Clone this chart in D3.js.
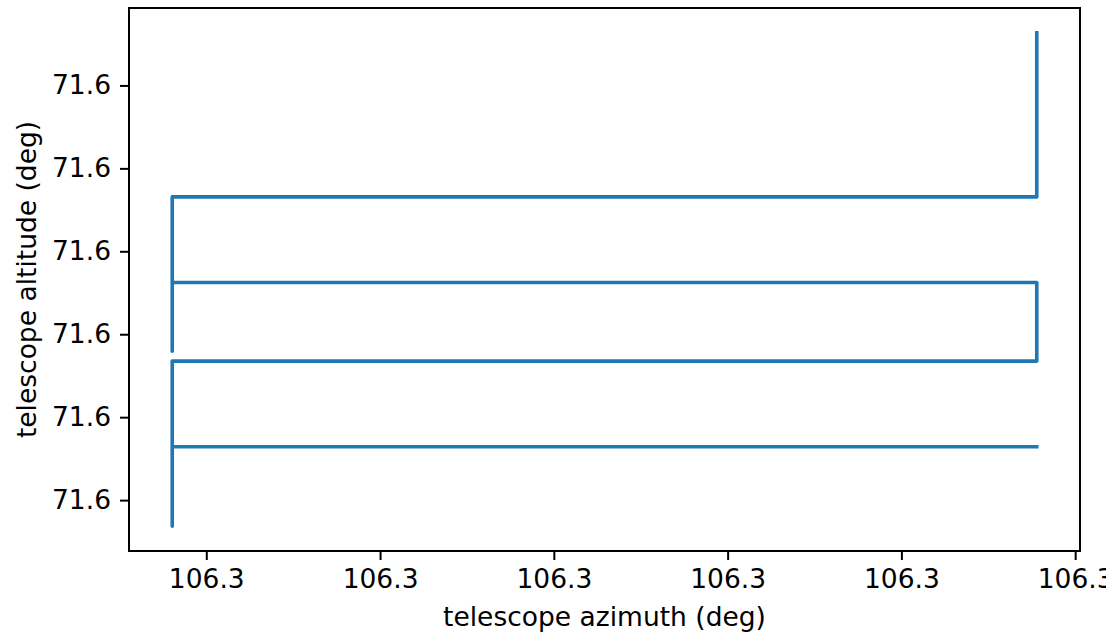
<!DOCTYPE html>
<html>
<head>
<meta charset="utf-8">
<script src="https://cdn.jsdelivr.net/npm/d3@7"></script>
<style>
    body { margin: 0; background: #ffffff; }
    .tick text { font-family: "DejaVu Sans", sans-serif; font-size: 26.5px; fill: #000; }
    .axisLabel { font-family: "DejaVu Sans", sans-serif; font-size: 26.5px; fill: #000; }
</style>
</head>
<body>
<script>
//telescope pointing track, one point per turn of the scan
var azimuth = [106.30004558, 106.29994608, 106.29994608, 106.29994608, 106.30004558, 106.30004558,
    106.29994608, 106.29994608, 106.29994608, 106.30004558, 106.30004558];
var altitude = [71.59996288, 71.59996288, 71.59994368, 71.59998352, 71.59998352, 71.60000248,
    71.60000248, 71.59998592, 71.60002312, 71.60002312, 71.60006272];

//tick positions (all print as the same rounded value)
var xTicks = [106.29995, 106.29997, 106.29999, 106.30001, 106.30003, 106.30005];
var yTicks = [71.59995, 71.59997, 71.59999, 71.60001, 71.60003, 71.60005];

window.onload = function(){
    var width = 1106,
        height = 635,
        left = 129,
        right = 1080,
        top = 8,
        bottom = 551;

    var svg = d3.select("body")
        .append("svg")
        .attr("width", width)
        .attr("height", height);

    //5% margin on each side like matplotlib
    function padded(values){
        var ext = d3.extent(values);
        var pad = (ext[1] - ext[0]) * 0.05;
        return [ext[0] - pad, ext[1] + pad];
    }

    var x = d3.scaleLinear()
        .domain(padded(azimuth))
        .range([left, right]);

    var y = d3.scaleLinear()
        .domain(padded(altitude))
        .range([bottom, top]);

    var fmt = d3.format(".1f");

    //x axis
    svg.append("g")
        .attr("class", "axis")
        .attr("transform", "translate(0," + bottom + ")")
        .call(d3.axisBottom(x).tickValues(xTicks).tickFormat(fmt).tickSize(9).tickPadding(9).tickSizeOuter(0))
        .call(function(g){ g.select(".domain").remove(); })
        .selectAll(".tick line").attr("stroke-width", 2);

    //y axis
    svg.append("g")
        .attr("class", "axis")
        .attr("transform", "translate(" + left + ",0)")
        .call(d3.axisLeft(y).tickValues(yTicks).tickFormat(fmt).tickSize(9).tickPadding(9).tickSizeOuter(0))
        .call(function(g){ g.select(".domain").remove(); })
        .selectAll(".tick line").attr("stroke-width", 2);

    //the track itself
    var points = azimuth.map(function(d, i){ return [d, altitude[i]]; });
    var line = d3.line()
        .x(function(d){ return x(d[0]); })
        .y(function(d){ return y(d[1]); });

    svg.append("path")
        .datum(points)
        .attr("d", line)
        .attr("fill", "none")
        .attr("stroke", "#1f77b4")
        .attr("stroke-width", 3.6)
        .attr("stroke-linecap", "square")
        .attr("stroke-linejoin", "round");

    //axes frame
    svg.append("rect")
        .attr("x", left)
        .attr("y", top)
        .attr("width", right - left)
        .attr("height", bottom - top)
        .attr("fill", "none")
        .attr("stroke", "#000")
        .attr("stroke-width", 2);

    //axis titles
    svg.append("text")
        .attr("class", "axisLabel")
        .attr("text-anchor", "middle")
        .attr("x", (left + right) / 2)
        .attr("y", 626)
        .text("telescope azimuth (deg)");

    svg.append("text")
        .attr("class", "axisLabel")
        .attr("text-anchor", "middle")
        .attr("transform", "translate(36," + (top + bottom) / 2 + ") rotate(-90)")
        .text("telescope altitude (deg)");
};
</script>
</body>
</html>
